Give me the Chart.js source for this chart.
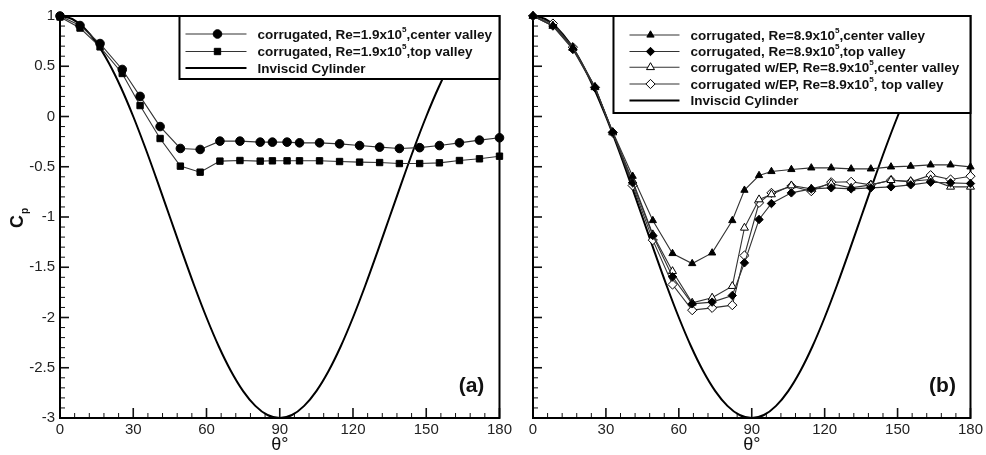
<!DOCTYPE html>
<html><head><meta charset="utf-8">
<script src="https://cdn.jsdelivr.net/npm/chart.js@4.4.1/dist/chart.umd.min.js"></script>
<style>
html,body{margin:0;padding:0;background:#fff;}
#wrap{position:relative;width:986px;height:455px;overflow:hidden;}
#ca{position:absolute;left:0;top:0;}
#cb{position:absolute;left:515px;top:0;}
</style></head><body>
<div id="wrap">
<canvas id="ca" width="515" height="455"></canvas>
<canvas id="cb" width="471" height="455"></canvas>
</div>
<script>
// ---- data ----
const thetaDeg = [0, 8.2, 16.4, 25.5, 32.8, 41, 49.3, 57.4, 65.5, 73.7, 82, 87, 93, 98.1, 106.3, 114.5, 122.7, 130.9, 139, 147.3, 155.4, 163.6, 171.8, 180];
const cpA_center = [1.0, 0.905, 0.726, 0.468, 0.2, -0.1, -0.318, -0.328, -0.245, -0.245, -0.255, -0.255, -0.255, -0.262, -0.262, -0.272, -0.289, -0.305, -0.318, -0.31, -0.289, -0.262, -0.235, -0.212];
const cpA_top = [0.99, 0.88, 0.693, 0.428, 0.109, -0.219, -0.494, -0.554, -0.444, -0.438, -0.444, -0.441, -0.441, -0.441, -0.441, -0.448, -0.454, -0.458, -0.468, -0.468, -0.461, -0.438, -0.421, -0.395];
const cpB_center = [1.0, 0.905, 0.69, 0.295, -0.152, -0.594, -1.035, -1.363, -1.463, -1.357, -1.035, -0.733, -0.587, -0.547, -0.527, -0.511, -0.511, -0.521, -0.521, -0.501, -0.494, -0.481, -0.481, -0.501];
const cpB_top = [1.0, 0.9, 0.667, 0.285, -0.156, -0.66, -1.184, -1.595, -1.864, -1.847, -1.781, -1.456, -1.025, -0.866, -0.76, -0.72, -0.71, -0.72, -0.71, -0.70, -0.68, -0.654, -0.66, -0.667];
const cpB_epCenter = [1.0, 0.9, 0.68, 0.29, -0.16, -0.64, -1.174, -1.54, -1.854, -1.804, -1.688, -1.108, -0.826, -0.776, -0.687, -0.72, -0.67, -0.71, -0.68, -0.634, -0.644, -0.627, -0.70, -0.70];
const cpB_epTop = [1.0, 0.925, 0.69, 0.29, -0.16, -0.687, -1.23, -1.672, -1.927, -1.904, -1.877, -1.383, -0.859, -0.76, -0.693, -0.743, -0.654, -0.65, -0.68, -0.634, -0.65, -0.584, -0.627, -0.594];
const inviscidTheta = [0,5,10,15,20,25,30,35,40,45,50,55,60,65,70,75,80,85,90,95,100,105,110,115,120,125,130,135,140,145,150,155,160,165,170,175,180];
const inviscidCp = [1, 0.970, 0.879, 0.732, 0.532, 0.286, 0, -0.316, -0.653, -1, -1.347, -1.684, -2, -2.286, -2.532, -2.732, -2.879, -2.970, -3, -2.970, -2.879, -2.732, -2.532, -2.286, -2, -1.684, -1.347, -1, -0.653, -0.316, 0, 0.286, 0.532, 0.732, 0.879, 0.970, 1];
const xTickValues = [0, 30, 60, 90, 120, 150, 180];
const xTickLabels = ['0', '30', '60', '90', '120', '150', '180'];
const yTickValues = [1, 0.5, 0, -0.5, -1, -1.5, -2, -2.5, -3];
const yTickLabels = ['1', '0.5', '0', '-0.5', '-1', '-1.5', '-2', '-2.5', '-3'];
const labelsA = ['corrugated, Re=1.9x10⁵,center valley', 'corrugated, Re=1.9x10⁵,top valley', 'Inviscid Cylinder'];
const labelsB = ['corrugated, Re=8.9x10⁵,center valley', 'corrugated, Re=8.9x10⁵,top valley', 'corrugated w/EP, Re=8.9x10⁵,center valley', 'corrugated w/EP, Re=8.9x10⁵, top valley', 'Inviscid Cylinder'];

// ---- helpers ----
const FONT = '"Liberation Sans", Arial, sans-serif';
const pts = (xs, ys) => xs.map((x, i) => ({x, y: ys[i]}));

function markerSeries(label, ys, style, radius, fill) {
  return {
    label, data: pts(thetaDeg, ys), borderColor: '#333', borderWidth: 1.1,
    pointStyle: style, pointRadius: radius, pointBackgroundColor: fill,
    pointBorderColor: '#000', pointBorderWidth: 1, clip: false, tension: 0
  };
}
function inviscidSeries(label) {
  return {
    label, data: pts(inviscidTheta, inviscidCp), borderColor: '#000', borderWidth: 2,
    pointRadius: 0, cubicInterpolationMode: 'monotone', isInviscid: true
  };
}

function drawMarker(ctx, style, r, fill, x, y) {
  ctx.save();
  ctx.fillStyle = fill; ctx.strokeStyle = '#000'; ctx.lineWidth = 1;
  if (Chart.helpers && Chart.helpers.drawPoint) {
    Chart.helpers.drawPoint(ctx, {pointStyle: style, radius: r, rotation: 0, borderWidth: 1}, x, y);
  }
  ctx.restore();
}

function drawRichText(ctx, text, x, y, size) {
  const parts = text.split('⁵');
  let cx = x;
  parts.forEach((p, i) => {
    ctx.font = 'bold ' + size + 'px ' + FONT;
    ctx.fillText(p, cx, y);
    cx += ctx.measureText(p).width;
    if (i < parts.length - 1) {
      ctx.font = 'bold ' + (size * 0.6) + 'px ' + FONT;
      ctx.fillText('5', cx, y - size * 0.42);
      cx += ctx.measureText('5').width;
    }
  });
}

const panelPlugin = {
  id: 'panel',
  beforeDatasetsDraw(chart) {
    const {ctx, chartArea: a, scales: {x, y}} = chart;
    ctx.save();
    ctx.strokeStyle = '#111';
    for (let v = 0; v <= 180; v += 6) {
      const px = x.getPixelForValue(v), major = v % 30 === 0;
      ctx.lineWidth = major ? 1.6 : 1;
      ctx.beginPath(); ctx.moveTo(px, a.bottom); ctx.lineTo(px, a.bottom - (major ? 10 : 5)); ctx.stroke();
    }
    for (let i = 0; i <= 40; i++) {
      const v = -3 + i * 0.1, py = y.getPixelForValue(v), major = i % 5 === 0;
      ctx.lineWidth = major ? 1.6 : 1;
      ctx.beginPath(); ctx.moveTo(a.left, py); ctx.lineTo(a.left + (major ? 9 : 5), py); ctx.stroke();
    }
    ctx.lineWidth = 2; ctx.strokeStyle = '#000';
    ctx.strokeRect(a.left, a.top, a.width, a.height);
    ctx.restore();
  },
  afterDatasetsDraw(chart, args, opts) {
    const {ctx, chartArea: a} = chart;
    ctx.save();
    const bx = a.right - opts.boxW, by = a.top;
    ctx.fillStyle = '#fff';
    ctx.fillRect(bx, by, opts.boxW, opts.boxH);
    ctx.lineWidth = 2; ctx.strokeStyle = '#000';
    ctx.strokeRect(bx, by, opts.boxW, opts.boxH);
    chart.data.datasets.forEach((ds, i) => {
      const ry = by + opts.rows[i];
      ctx.strokeStyle = ds.borderColor; ctx.lineWidth = ds.borderWidth;
      ctx.beginPath(); ctx.moveTo(bx + opts.lineX0, ry); ctx.lineTo(bx + opts.lineX1, ry); ctx.stroke();
      if (!ds.isInviscid) drawMarker(ctx, ds.pointStyle, ds.pointRadius, ds.pointBackgroundColor, bx + opts.markX, ry);
      ctx.fillStyle = '#111'; ctx.textBaseline = 'middle'; ctx.textAlign = 'left';
      drawRichText(ctx, ds.label, bx + opts.textX, ry + 1, 13.5);
    });
    ctx.restore();
  },
  afterDraw(chart, args, opts) {
    const {ctx, chartArea: a} = chart;
    ctx.save();
    ctx.fillStyle = '#111';
    ctx.textAlign = 'center'; ctx.textBaseline = 'middle';
    ctx.font = '18px ' + FONT;
    ctx.fillText('θ°', (a.left + a.right) / 2, 445);
    ctx.font = 'bold 21px ' + FONT;
    ctx.fillText(opts.tag, a.right - 28, 386);
    if (opts.yTitle) {
      ctx.translate(23, 228);
      ctx.rotate(-Math.PI / 2);
      ctx.textAlign = 'left'; ctx.textBaseline = 'alphabetic';
      ctx.font = 'bold 18px ' + FONT;
      ctx.fillText('C', 0, 0);
      const w = ctx.measureText('C').width;
      ctx.font = 'bold 10px ' + FONT;
      ctx.fillText('p', w + 1, 5);
    }
    ctx.restore();
  }
};

function makeOptions(showYLabels, yWidth, padRight, panelOpts) {
  return {
    responsive: false, animation: false, devicePixelRatio: 1,
    layout: {padding: {left: 0, right: padRight, top: 16, bottom: 0}},
    plugins: {legend: {display: false}, tooltip: {enabled: false}, panel: panelOpts},
    scales: {
      x: {
        type: 'linear', min: 0, max: 180,
        grid: {display: false, drawTicks: false}, border: {display: false},
        afterBuildTicks: s => { s.ticks = xTickValues.map(v => ({value: v})); },
        afterFit: s => { s.height = 37; },
        ticks: {padding: 3, color: '#222', font: {family: FONT, size: 15}, maxRotation: 0, autoSkip: false,
          callback: (v, i) => xTickLabels[i]}
      },
      y: {
        type: 'linear', min: -3, max: 1,
        grid: {display: false, drawTicks: false}, border: {display: false},
        afterBuildTicks: s => { s.ticks = yTickValues.map(v => ({value: v})); },
        afterFit: s => { s.width = yWidth; },
        ticks: {display: showYLabels, padding: 5, color: '#222', font: {family: FONT, size: 15}, autoSkip: false,
          callback: (v, i) => yTickLabels[i]}
      }
    }
  };
}

new Chart(document.getElementById('ca'), {
  type: 'line',
  data: {datasets: [
    markerSeries(labelsA[0], cpA_center, 'circle', 4.3, '#000'),
    markerSeries(labelsA[1], cpA_top, 'rect', 4.5, '#000'),
    inviscidSeries(labelsA[2])
  ]},
  options: makeOptions(true, 60, 15, {tag: '(a)', yTitle: true, boxW: 320, boxH: 63, rows: [18, 35.5, 52], lineX0: 6, lineX1: 67, markX: 38, textX: 78}),
  plugins: [panelPlugin]
});

new Chart(document.getElementById('cb'), {
  type: 'line',
  data: {datasets: [
    markerSeries(labelsB[0], cpB_center, 'triangle', 4.2, '#000'),
    markerSeries(labelsB[1], cpB_top, 'rectRot', 4.2, '#000'),
    markerSeries(labelsB[2], cpB_epCenter, 'triangle', 4.6, '#fff'),
    markerSeries(labelsB[3], cpB_epTop, 'rectRot', 4.6, '#fff'),
    inviscidSeries(labelsB[4])
  ]},
  options: makeOptions(false, 18, 13, {tag: '(b)', yTitle: false, boxW: 357, boxH: 97, rows: [19, 35.5, 51.3, 68, 84.5], lineX0: 16, lineX1: 66, markX: 37, textX: 77}),
  plugins: [panelPlugin]
});
</script>
</body></html>
